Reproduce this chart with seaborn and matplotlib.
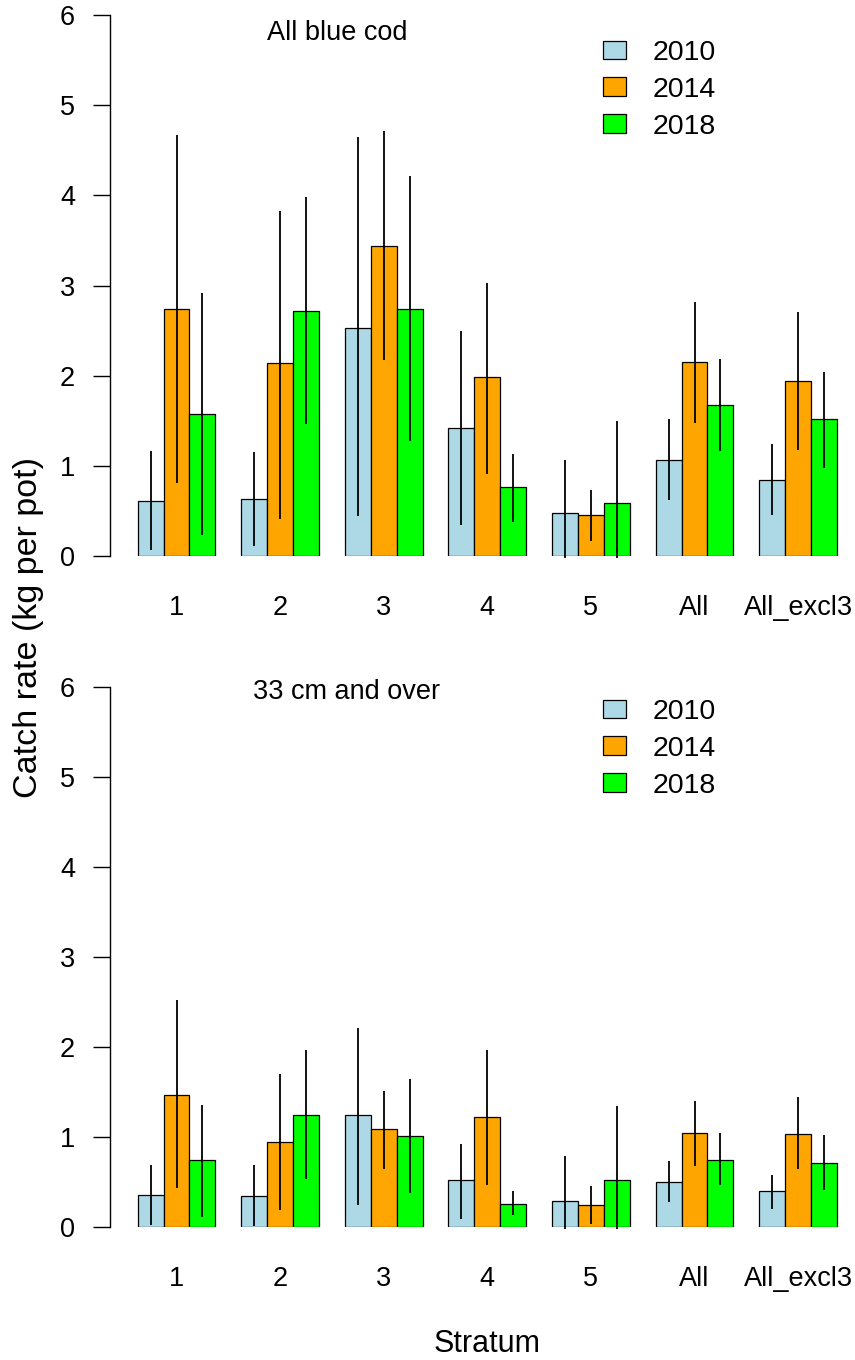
"""Blue cod catch rate by stratum, 2010/2014/2018, two panels (all fish / 33 cm and over)."""

import matplotlib

matplotlib.use("Agg")
import matplotlib.pyplot as plt
import pandas as pd
import seaborn as sns
from matplotlib.patches import Patch

STRATA = ["1", "2", "3", "4", "5", "All", "All_excl3"]
YEARS = ["2010", "2014", "2018"]
COLOURS = {"2010": "#ADD8E6", "2014": "#FFA500", "2018": "#00FF00"}

# All blue cod
ALL_2010 = [0.61, 0.63, 2.53, 1.42, 0.48, 1.06, 0.84]
ALL_2010_LO = [0.07, 0.11, 0.44, 0.34, -0.02, 0.625, 0.45]
ALL_2010_HI = [1.17, 1.15, 4.65, 2.50, 1.07, 1.52, 1.24]
ALL_2014 = [2.74, 2.14, 3.44, 1.98, 0.45, 2.15, 1.94]
ALL_2014_LO = [0.81, 0.41, 2.17, 0.91, 0.17, 1.48, 1.18]
ALL_2014_HI = [4.67, 3.83, 4.71, 3.03, 0.73, 2.82, 2.71]
ALL_2018 = [1.58, 2.72, 2.74, 0.76, 0.59, 1.68, 1.52]
ALL_2018_LO = [0.23, 1.46, 1.27, 0.375, -0.02, 1.17, 0.98]
ALL_2018_HI = [2.92, 3.98, 4.21, 1.13, 1.50, 2.18, 2.04]

# 33 cm and over
BIG_2010 = [0.36, 0.34, 1.24, 0.52, 0.29, 0.50, 0.40]
BIG_2010_LO = [0.02, 0.01, 0.24, 0.09, -0.02, 0.28, 0.20]
BIG_2010_HI = [0.69, 0.69, 2.21, 0.92, 0.79, 0.73, 0.58]
BIG_2014 = [1.47, 0.94, 1.09, 1.22, 0.25, 1.05, 1.03]
BIG_2014_LO = [0.43, 0.19, 0.64, 0.47, 0.03, 0.68, 0.65]
BIG_2014_HI = [2.52, 1.70, 1.51, 1.97, 0.46, 1.40, 1.44]
BIG_2018 = [0.74, 1.24, 1.01, 0.26, 0.52, 0.74, 0.71]
BIG_2018_LO = [0.11, 0.53, 0.38, 0.13, -0.02, 0.47, 0.41]
BIG_2018_HI = [1.36, 1.97, 1.64, 0.40, 1.34, 1.04, 1.02]

W, H = 855, 1360
FS = 19.5


def _long_frame(means):
    rows = []
    for year, vals in zip(YEARS, means):
        for stratum, v in zip(STRATA, vals):
            rows.append({"stratum": stratum, "year": year, "rate": v})
    return pd.DataFrame(rows)


def draw_panel(ax, means, lows, highs, title, title_xy):
    df = _long_frame(means)
    sns.barplot(data=df, x="stratum", y="rate", hue="year", order=STRATA, hue_order=YEARS,
                palette=COLOURS, saturation=1, width=0.75, gap=0, edgecolor="black",
                linewidth=0.9, errorbar=None, legend=False, ax=ax)

    # Confidence intervals as plain vertical lines through each bar
    for container, lo, hi in zip(ax.containers, lows, highs):
        xs = [b.get_x() + b.get_width() / 2 for b in container]
        ax.vlines(xs, lo, hi, colors="black", linewidth=1.3, clip_on=False, zorder=3)

    ax.set_xlim(-0.642, 6.549)
    ax.set_ylim(0, 6)
    ax.set_yticks(range(7))
    ax.set(xlabel="", ylabel="")
    for side in ("top", "right", "bottom"):
        ax.spines[side].set_visible(False)
    ax.spines["left"].set_bounds(0, 6)
    ax.spines["left"].set_linewidth(1.0)
    ax.spines["left"].set_color("black")
    ax.tick_params(axis="y", length=12.2, width=1.0, pad=13, labelsize=FS, left=True,
                   color="black", labelcolor="black")
    ax.tick_params(axis="x", length=0, pad=28, labelsize=FS, bottom=True, labelcolor="black")

    fig = ax.figure
    fig.text(title_xy[0] / W, 1 - title_xy[1] / H, title, ha="center", va="center",
             fontsize=FS, color="black")

    handles = [Patch(facecolor=COLOURS[y], edgecolor="black", linewidth=0.9) for y in YEARS]
    leg = ax.legend(handles, YEARS, loc="upper left", frameon=False, fontsize=20.5,
                    bbox_to_anchor=(603 / W, 1 - (title_xy[1] + 7) / H),
                    bbox_transform=fig.transFigure,
                    handlelength=0.8, handleheight=0.64, handletextpad=0.95, labelspacing=0.38,
                    borderpad=0, borderaxespad=0)
    for t in leg.get_texts():
        t.set_color("black")


def main():
    sns.set_theme(style="ticks")
    plt.rcParams["font.family"] = ["Liberation Sans", "DejaVu Sans"]
    plt.rcParams["text.color"] = "black"

    fig = plt.figure(figsize=(W / 100, H / 100), dpi=100)
    top_ax = fig.add_axes([110 / W, (H - 556) / H, 745 / W, 541 / H])
    bot_ax = fig.add_axes([110 / W, (H - 1227) / H, 745 / W, 540 / H])

    draw_panel(top_ax,
               [ALL_2010, ALL_2014, ALL_2018],
               [ALL_2010_LO, ALL_2014_LO, ALL_2018_LO],
               [ALL_2010_HI, ALL_2014_HI, ALL_2018_HI],
               "All blue cod", (337, 33))
    draw_panel(bot_ax,
               [BIG_2010, BIG_2014, BIG_2018],
               [BIG_2010_LO, BIG_2014_LO, BIG_2018_LO],
               [BIG_2010_HI, BIG_2014_HI, BIG_2018_HI],
               "33 cm and over", (347, 692))

    fig.text(29 / W, 1 - 627 / H, "Catch rate (kg per pot)", rotation=90,
             ha="center", va="center", fontsize=24.5, color="black")
    fig.text(487 / W, 1 - 1344 / H, "Stratum", ha="center", va="center", fontsize=22,
             color="black")

    fig.savefig("out.png", dpi=100)


if __name__ == "__main__":
    main()
